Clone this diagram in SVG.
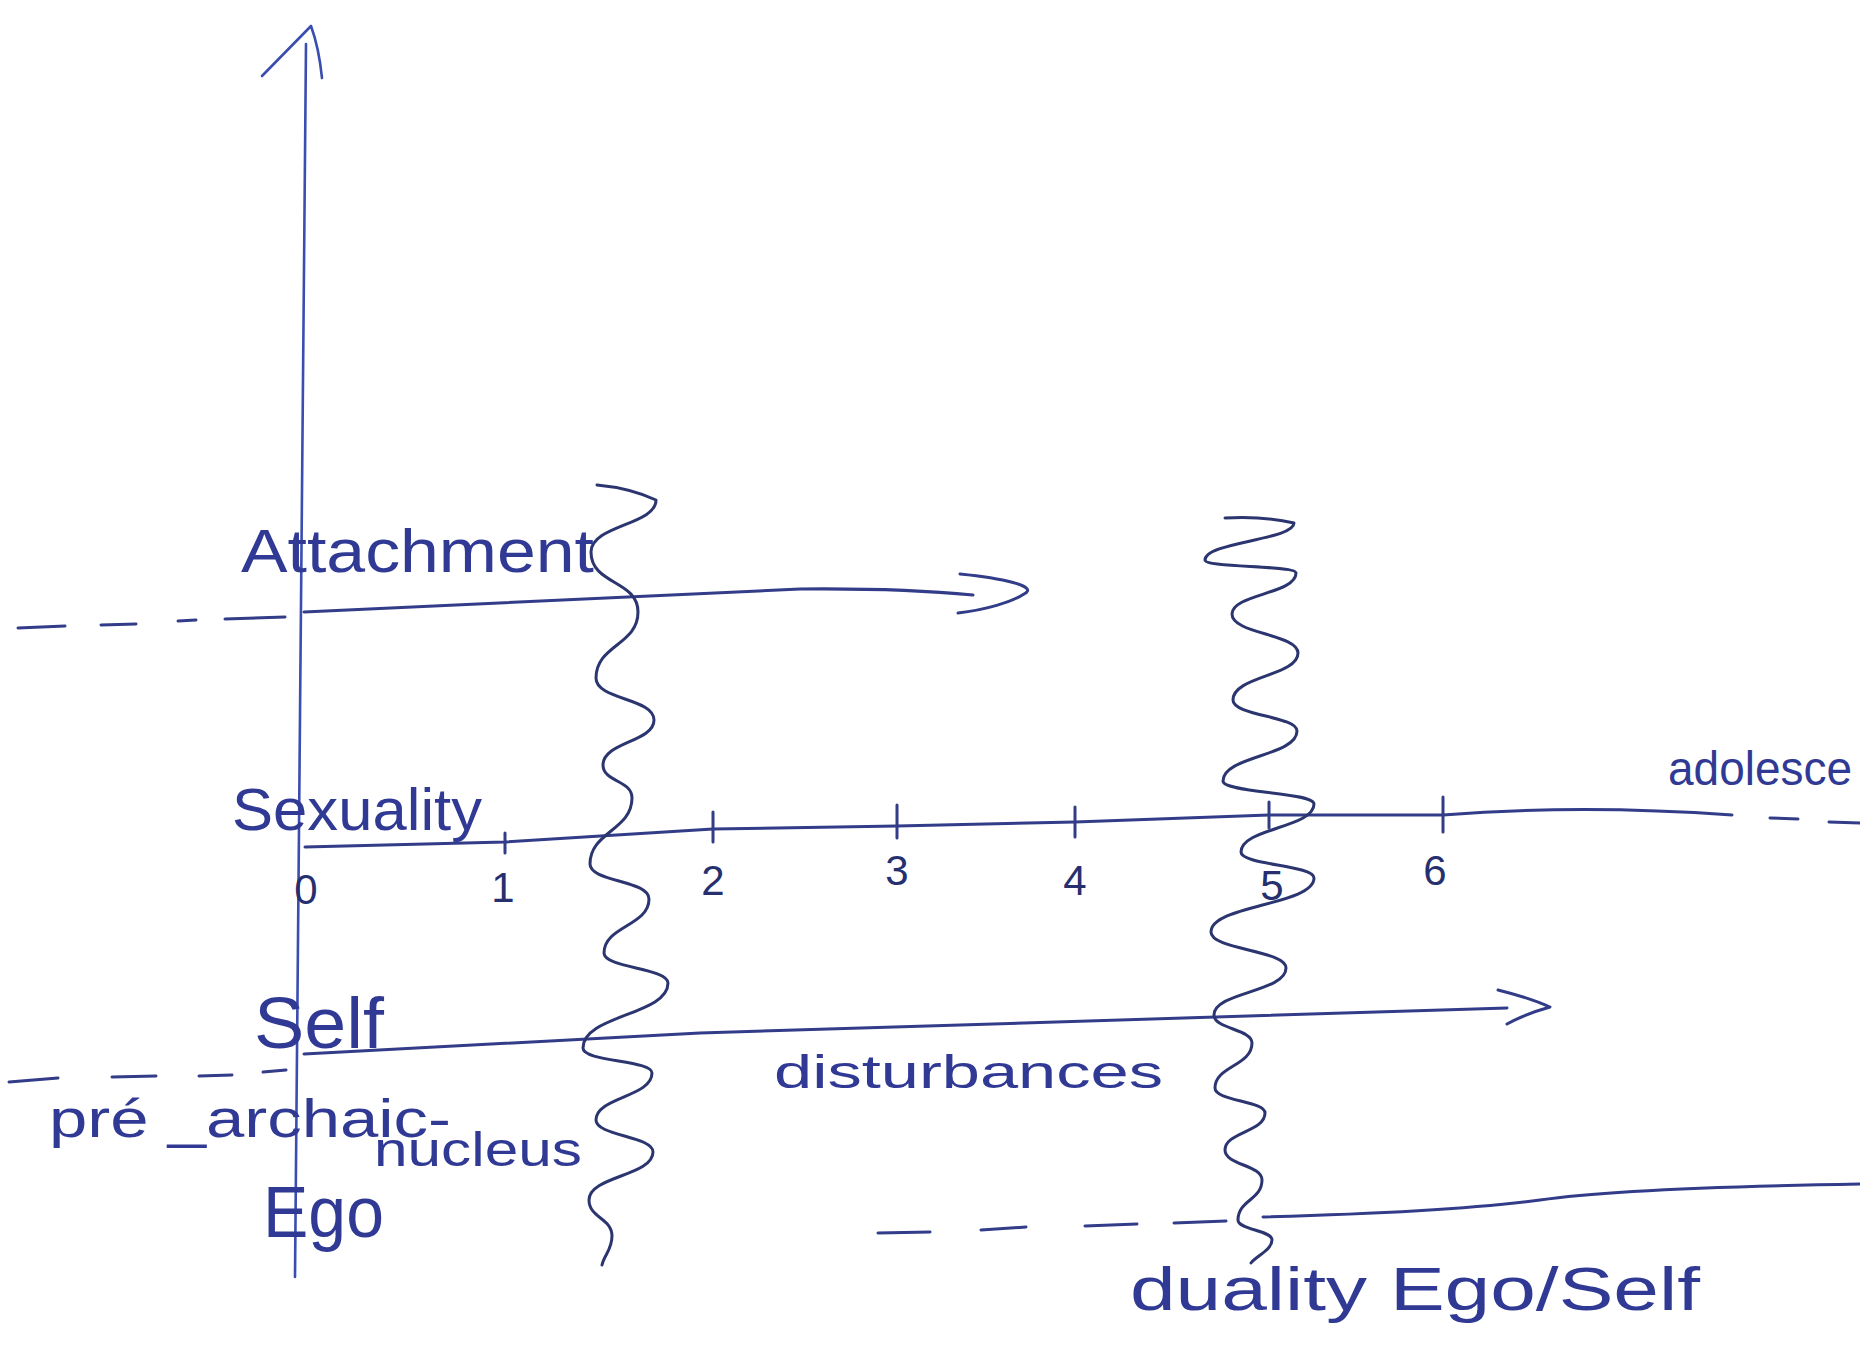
<svg xmlns="http://www.w3.org/2000/svg" width="1860" height="1348" viewBox="0 0 1860 1348">
<style>
.ink{fill:none;stroke:#323c88;stroke-width:3;stroke-linecap:round;stroke-linejoin:round}
.axis{fill:none;stroke:#3a4db0;stroke-width:2.6;stroke-linecap:round;stroke-linejoin:round}
.wave{fill:none;stroke:#2b356f;stroke-width:3;stroke-linecap:round;stroke-linejoin:round}
.dash{fill:none;stroke:#323c88;stroke-width:3;stroke-linecap:round}
.lbl{font-family:"Liberation Sans","DejaVu Sans",sans-serif;fill:#303a94}
.num{font-family:"Liberation Sans","DejaVu Sans",sans-serif;fill:#27306f;font-size:42px;text-anchor:middle}
</style>
<rect width="1860" height="1348" fill="#ffffff"/>

<g id="vertical-axis">
  <path class="axis" d="M306,44 L295,1277"/>
  <path class="axis" d="M262,76 L311,26 Q319,48 322,78"/>
</g>

<g id="connectors">
  <g id="attachment-line">
    <path class="dash" d="M18,628 L65,626 M101,625 L136,624 M178,621 L196,620 M225,619 L285,617"/>
    <path class="ink" d="M304,612 Q640,596 800,589 Q900,588 973,595"/>
    <path class="ink" d="M960,574 C1000,578 1040,586 1024,594 C1012,602 985,610 958,613"/>
  </g>
  <g id="sexuality-axis">
    <path class="ink" d="M305,847 L505,842 L713,829 L897,826 L1075,822 L1269,815 L1443,815 Q1580,804 1732,815"/>
    <path class="dash" d="M1770,818 L1798,819 M1829,822 L1860,823"/>
    <path class="ink" d="M505,833 L505,853 M713,812 L713,842 M897,805 L897,838 M1075,807 L1075,837 M1269,802 L1269,828 M1443,797 L1443,832"/>
  </g>
  <g id="self-line">
    <path class="dash" d="M9,1082 L58,1078 M112,1077 L156,1076 M199,1076 L232,1075 M263,1072 L286,1070"/>
    <path class="ink" d="M304,1054 L700,1033 Q1200,1018 1507,1008"/>
    <path class="ink" d="M1498,990 Q1530,998 1550,1007 Q1525,1014 1507,1024"/>
  </g>
  <g id="duality-line">
    <path class="dash" d="M878,1233 L930,1232 M981,1230 L1026,1227 M1085,1226 L1137,1224 M1174,1223 L1226,1221"/>
    <path class="ink" d="M1263,1217 Q1450,1212 1540,1200 Q1620,1188 1860,1184"/>
  </g>
</g>

<g id="wave-1">
  <path class="wave" d="M597,485 Q630,488 656,500
    C656,525 591,525 591,552
    C591,585 638,580 638,612
    C638,645 596,645 596,678
    C596,700 654,698 654,720
    C654,742 603,742 603,765
    C603,782 632,780 632,798
    C632,830 590,832 590,864
    C590,882 649,880 649,899
    C649,926 604,926 604,953
    C604,968 668,968 668,983
    C668,1015 583,1015 583,1048
    C583,1062 652,1060 652,1073
    C652,1097 596,1097 596,1120
    C596,1136 653,1136 653,1152
    C653,1176 589,1176 589,1200
    C589,1218 612,1218 612,1236
    C612,1250 604,1255 602,1265"/>
</g>

<g id="wave-2">
  <path class="wave" d="M1225,518 Q1265,516 1294,523
    C1294,540 1205,542 1205,560
    C1205,568 1296,565 1296,573
    C1296,594 1232,594 1232,614
    C1232,634 1298,634 1298,653
    C1298,676 1233,676 1233,700
    C1233,716 1297,716 1297,731
    C1297,756 1223,756 1223,781
    C1223,793 1314,792 1314,804
    C1314,828 1241,828 1241,852
    C1241,865 1314,865 1314,878
    C1314,905 1211,905 1211,932
    C1211,950 1286,950 1286,968
    C1286,992 1214,992 1214,1015
    C1214,1029 1252,1029 1252,1043
    C1252,1066 1215,1066 1215,1088
    C1215,1101 1265,1101 1265,1113
    C1265,1132 1225,1132 1225,1150
    C1225,1165 1262,1165 1262,1180
    C1262,1200 1238,1200 1238,1220
    C1238,1230 1272,1230 1272,1240
    C1272,1250 1256,1256 1251,1263"/>
</g>

<g id="label-attachment"><text class="lbl" x="241" y="572" font-size="62" textLength="353" lengthAdjust="spacingAndGlyphs">Attachment</text></g>
<g id="label-sexuality"><text class="lbl" x="232" y="830" font-size="60" textLength="250" lengthAdjust="spacingAndGlyphs">Sexuality</text></g>
<g id="label-adolesce"><text class="lbl" x="1668" y="785" font-size="48" textLength="184" lengthAdjust="spacingAndGlyphs">adolesce</text></g>
<g id="tick-labels">
  <text class="num" x="306" y="904" font-size="58">0</text>
  <text class="num" x="503" y="902">1</text>
  <text class="num" x="713" y="895">2</text>
  <text class="num" x="897" y="885">3</text>
  <text class="num" x="1075" y="895">4</text>
  <text class="num" x="1272" y="900">5</text>
  <text class="num" x="1435" y="885">6</text>
</g>
<g id="label-self"><text class="lbl" x="254" y="1048" font-size="72" textLength="130" lengthAdjust="spacingAndGlyphs">Self</text></g>
<g id="label-prearchaic"><text class="lbl" x="49" y="1137" font-size="54" textLength="402" lengthAdjust="spacingAndGlyphs">pré _archaic-</text></g>
<g id="label-nucleus"><text class="lbl" x="374" y="1166" font-size="48" textLength="208" lengthAdjust="spacingAndGlyphs">nucleus</text></g>
<g id="label-ego"><text class="lbl" x="263" y="1237" font-size="72" textLength="121" lengthAdjust="spacingAndGlyphs">Ego</text></g>
<g id="label-disturbances"><text class="lbl" x="774" y="1088" font-size="46" textLength="389" lengthAdjust="spacingAndGlyphs">disturbances</text></g>
<g id="label-duality"><text class="lbl" x="1130" y="1310" font-size="62" textLength="570" lengthAdjust="spacingAndGlyphs">duality Ego/Self</text></g>
</svg>
